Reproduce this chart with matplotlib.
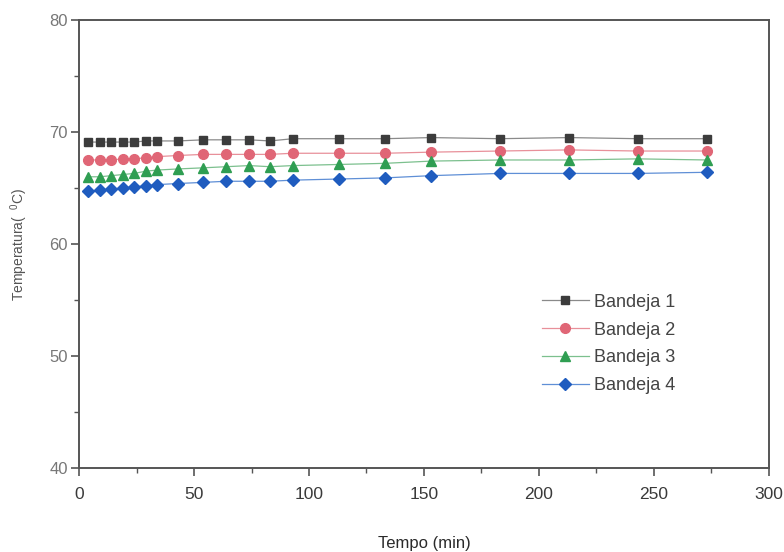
import matplotlib
matplotlib.use("Agg")
import matplotlib.pyplot as plt
from matplotlib.ticker import MultipleLocator

plt.rcParams['font.family'] = ['Liberation Sans', 'DejaVu Sans']
plt.rcParams['mathtext.fontset'] = 'custom'
plt.rcParams['mathtext.rm'] = 'Liberation Sans'
plt.rcParams['mathtext.it'] = 'Liberation Sans'

# Drying time (min)
tempo = [4, 9, 14, 19, 24, 29, 34, 43, 54, 64, 74, 83, 93, 113, 133, 153, 183, 213, 243, 273]

# Temperature of each tray (deg C)
bandeja1 = [69.1, 69.1, 69.1, 69.1, 69.1, 69.2, 69.2, 69.2, 69.3, 69.3,
            69.3, 69.2, 69.4, 69.4, 69.4, 69.5, 69.4, 69.5, 69.4, 69.4]
bandeja2 = [67.5, 67.5, 67.5, 67.6, 67.6, 67.7, 67.8, 67.9, 68.0, 68.0,
            68.0, 68.0, 68.1, 68.1, 68.1, 68.2, 68.3, 68.4, 68.3, 68.3]
bandeja3 = [66.0, 66.0, 66.1, 66.2, 66.3, 66.5, 66.6, 66.7, 66.8, 66.9,
            67.0, 66.9, 67.0, 67.1, 67.2, 67.4, 67.5, 67.5, 67.6, 67.5]
bandeja4 = [64.7, 64.8, 64.9, 65.0, 65.1, 65.2, 65.3, 65.4, 65.5, 65.6,
            65.6, 65.6, 65.7, 65.8, 65.9, 66.1, 66.3, 66.3, 66.3, 66.4]

series_labels = ['Bandeja 1', 'Bandeja 2', 'Bandeja 3', 'Bandeja 4']

fig = plt.figure(figsize=(7.84, 5.52), dpi=100)
ax = fig.add_axes([0.1008, 0.1522, 0.8800, 0.8116])

styles = [
    dict(marker='s', color='#8a8a8a', mfc='#3c3c3c', mec='#3c3c3c', ms=6),
    dict(marker='o', color='#e8909a', mfc='#e06676', mec='#e06676', ms=7),
    dict(marker='^', color='#7cc08e', mfc='#2f9e52', mec='#2f9e52', ms=7.5),
    dict(marker='D', color='#5f8fd6', mfc='#1f5cbf', mec='#1f5cbf', ms=6.5),
]
for y, lab, st in zip([bandeja1, bandeja2, bandeja3, bandeja4], series_labels, styles):
    ax.plot(tempo, y, lw=0.9, label=lab, **st)

ax.set_xlim(0, 300)
ax.set_ylim(40, 80)
ax.xaxis.set_major_locator(MultipleLocator(50))
ax.xaxis.set_minor_locator(MultipleLocator(25))
ax.yaxis.set_major_locator(MultipleLocator(10))
ax.yaxis.set_minor_locator(MultipleLocator(5))

for s in ax.spines.values():
    s.set_color('#555555')
    s.set_linewidth(1.4)

ax.tick_params(axis='both', which='major', direction='out', length=6, width=1.2,
               color='#555555')
ax.tick_params(axis='both', which='minor', direction='out', length=3.5, width=1.0,
               color='#555555')
ax.tick_params(axis='x', labelsize=12.5, labelcolor='#3a3a3a', pad=8)
ax.tick_params(axis='y', labelsize=12, labelcolor='#777777', pad=2)

ax.set_xlabel('Tempo (min)', fontsize=12, color='#2a2a2a', labelpad=24)
ax.set_ylabel(r'Temperatura(  $^{0}$C)', fontsize=10, color='#555555', labelpad=14)

leg = ax.legend(loc='upper left', bbox_to_anchor=(0.66, 0.405), frameon=False,
                fontsize=13, handlelength=2.6, handletextpad=0.3,
                labelspacing=0.6, borderaxespad=0)
for t in leg.get_texts():
    t.set_color('#444444')

fig.savefig('out.png', dpi=100)
